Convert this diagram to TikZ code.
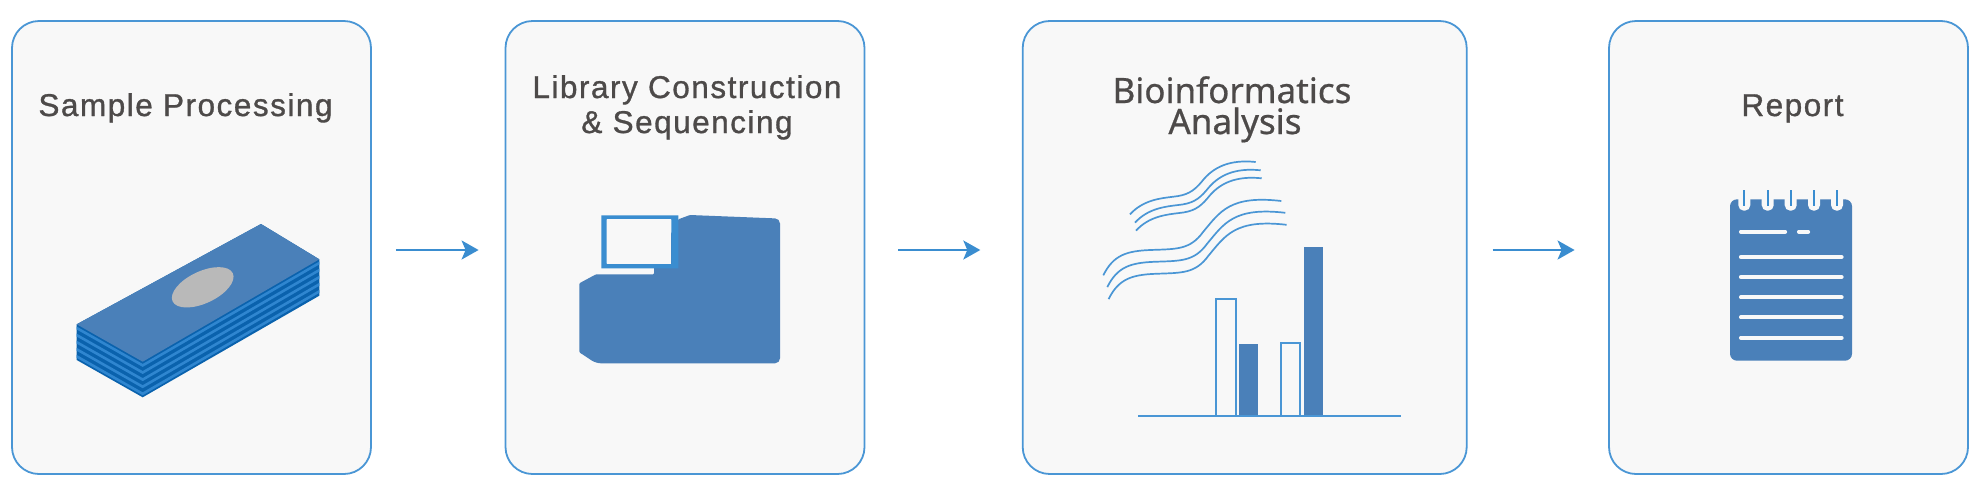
\documentclass[tikz,border=0pt]{standalone}
\usepackage{fontspec}
\setmainfont{Liberation Sans}[LetterSpace=4.8,FakeBold=1]
\newfontfamily\bioinfofont{Noto Sans}[FakeBold=0.6]
\usetikzlibrary{arrows.meta}
\definecolor{boxline}{HTML}{4A96D5}
\definecolor{boxfill}{HTML}{F8F8F8}
\definecolor{iconblue}{HTML}{4A80B9}
\definecolor{arrowblue}{HTML}{3A8DD0}
\definecolor{platedark}{HTML}{0A62AD}
\definecolor{platelight}{HTML}{2F86D0}
\definecolor{titlegrey}{HTML}{4D4A49}
\tikzset{
  stagebox/.style={draw=boxline,fill=boxfill,line width=1.8pt,rounded corners=27pt,
    minimum height=453pt,inner sep=0pt},
  stagetitle/.style={text=titlegrey,align=center,inner sep=0pt,font=\fontsize{31.5}{35}\selectfont},
  flowarrow/.style={draw=arrowblue,line width=2.3pt,-{Stealth[length=17pt,width=19pt,inset=4pt]}},
  waveline/.style={draw=boxline,line width=1.7pt},
  paperline/.style={draw=boxfill,line width=4.2pt,line cap=round},
  barline/.style={draw=boxline,fill=boxfill,line width=1.7pt},
}
\begin{document}
\begin{tikzpicture}[x=1pt,y=-1pt]
  \useasboundingbox (0,0) rectangle (1980,491);
  % stages
  \node[stagebox,minimum width=359pt] (sample) at (191.5,247.5) {};
  \node[stagebox,minimum width=359pt] (library) at (685,247.5) {};
  \node[stagebox,minimum width=444pt] (bioinfo) at (1244.7,247.5) {};
  \node[stagebox,minimum width=359pt] (report) at (1788.5,247.5) {};
  % titles
  \node[stagetitle,anchor=base] (sampletitle) at (185.5,116) {Sample Processing};
  \node[stagetitle,anchor=base] (librarytitle) at (687,98) {Library Construction};
  \node[stagetitle,anchor=base] (librarytitleb) at (687,133) {\& Sequencing};
  \node[stagetitle,anchor=base,font=\bioinfofont\fontsize{35}{35}\selectfont] (bioinfotitle) at (1232,103) {Bioinformatics};
  \node[stagetitle,anchor=base,font=\bioinfofont\fontsize{35}{35}\selectfont] (bioinfotitleb) at (1235,134) {Analysis};
  \node[stagetitle,anchor=base] (reporttitle) at (1792.5,116) {Report};
  % arrows
  \draw[flowarrow,shorten <=24pt,shorten >=26pt] ([yshift=-2.5pt]sample.east) -- ([yshift=-2.5pt]library.west);
  \draw[flowarrow,shorten <=33pt,shorten >=41.5pt] ([yshift=-2.5pt]library.east) -- ([yshift=-2.5pt]bioinfo.west);
  \draw[flowarrow,shorten <=25pt,shorten >=33.5pt] ([yshift=-2.5pt]bioinfo.east) -- ([yshift=-2.5pt]report.west);
  % slide stack
  \fill[platedark] (76.7,324.3) -- (261,224) -- (319.3,259.3) -- (319.3,295.7)
    -- (142.7,397.3) -- (76.7,360) -- cycle;
  \foreach \i in {0,...,4}{
    \fill[platelight] (76.7,326.5+7.1*\i) -- (142.7,363.9+7.1*\i) -- (319.3,261.5+7.1*\i)
      -- (319.3,264.5+7.1*\i) -- (142.7,366.9+7.1*\i) -- (76.7,329.5+7.1*\i) -- cycle;
  }
  \fill[iconblue] (76.7,324.3) -- (261,224) -- (319.3,259.3) -- (142.7,361.7) -- cycle;
  \fill[gray!55!white,rotate around={25:(202.7,287.3)}] (202.7,287.3) ellipse [x radius=33.2,y radius=16];
  % sequencer
  \fill[iconblue,rounded corners=1pt] (579.3,283.3) -- (596,274.3) -- (654,274.3) -- (654,268)
    -- (678.3,219.3) -- (690,215) -- (773.3,218.3) [rounded corners=5pt] -- (780,218.5)
    -- (780,363.3) -- (596,363.3) [rounded corners=1pt] -- (579.3,352.3) -- cycle;
  \fill[arrowblue,even odd rule] (601.3,215.3) rectangle (678.3,268.3) (606.7,219.3) rectangle (671.3,263.7);
  \fill[boxfill] (606.7,219.3) rectangle (671.3,263.7);
  % reads
  \foreach \dx/\dy in {0/0,5/8.3,6/16.3}{
    \draw[waveline,shift={(1080+\dx,140+\dy)}] (50,74.3) .. controls (63.3,60) and (80,58.3) .. (93.3,56.7)
      .. controls (106.7,55.3) and (113.3,51.7) .. (121.7,41.7)
      .. controls (133.3,26.7) and (150,19.3) .. (175.7,22);
  }
  \foreach \dx/\dy in {0/0,4/11.8,5.3/23.8}{
    \draw[waveline,shift={(1080+\dx,140+\dy)}] (23.3,135.3) .. controls (33.3,115) and (46.7,111) .. (70,110)
      .. controls (96.7,109) and (110,110) .. (123.3,91.7)
      .. controls (140,71.7) and (150,55) .. (201.3,61);
  }
  % bars
  \draw[barline] (1216.3,416) rectangle (1235.7,299);
  \fill[iconblue] (1238.7,416) rectangle (1257.7,343.7);
  \draw[barline] (1281,416) rectangle (1300.3,342.7);
  \fill[iconblue] (1303.7,416) rectangle (1322.7,246.7);
  \draw[waveline] (1138.3,416) -- (1401,416);
  % notebook
  \fill[iconblue,rounded corners=7pt] (1730,199.3) rectangle (1852,360.7);
  \foreach \x in {1744.3,1767.7,1790.7,1814,1837}{
    \fill[boxfill,rounded corners=5.5pt] (\x-6,190) rectangle (\x+6,210.7);
    \draw[arrowblue,line width=2.2pt] (\x,190) -- (\x,206);
  }
  \draw[paperline] (1741,231.7) -- (1785,231.7);
  \draw[paperline] (1799,231.7) -- (1808,231.7);
  \foreach \y in {257,277,297.3,317.3,337.7}{
    \draw[paperline] (1741,\y) -- (1841.5,\y);
  }
\end{tikzpicture}
\end{document}
